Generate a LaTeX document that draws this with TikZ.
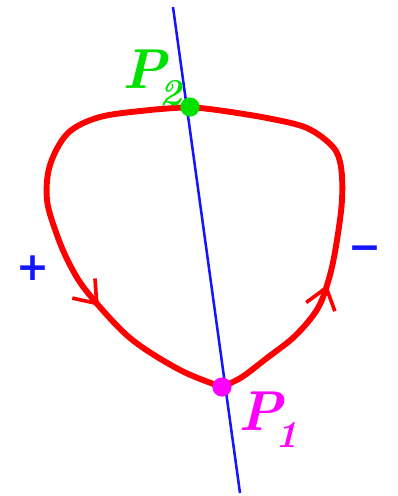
\documentclass[tikz,border=0pt]{standalone}
\usepackage{fontspec}
\usepackage{xcolor}
\usepackage{tikz}
\usetikzlibrary{arrows.meta,decorations.markings}

\newfontfamily\signfont{DejaVu Sans}
\definecolor{curvered}{RGB}{255,0,0}
\definecolor{lineblue}{RGB}{20,20,255}
\definecolor{ptgreen}{RGB}{0,225,0}
\definecolor{ptmagenta}{RGB}{255,0,255}

\begin{document}
\begin{tikzpicture}[x=0.025cm, y=-0.025cm,
    every node/.style={inner sep=0pt},
    dot/.style={circle, minimum size=0.48cm},
    lbl/.style={font=\fontsize{40}{40}\selectfont\bfseries\itshape},
    sgn/.style={font=\fontsize{28}{28}\selectfont\signfont\bfseries, text=lineblue},
    curve/.style={curvered, line width=4.2pt, line join=round},
    barb/.style={postaction={decorate, decoration={markings,
      mark=at position #1 with {\arrow[curvered, line width=2.6pt]{Straight Barb[length=0.5cm, width=0.75cm]}}}}}]
  \useasboundingbox (0,0) rectangle (398,496);

  % Line through both points
  \coordinate (top) at (173,7);
  \coordinate (bot) at (240,493);
  \draw[lineblue, line width=1.8pt] (top) -- (bot);

  % Closed curve, two halves
  \draw[curve, barb=0.68] plot[smooth, tension=0.55] coordinates
    {(190,107) (150,110) (100,117) (68,133) (50,165) (47,200) (57,235)
     (70,265) (88,293) (130,338) (180,370) (222,387)};
  \draw[curve, barb=0.34] plot[smooth, tension=0.55] coordinates
    {(222,387) (242,377) (267,358) (295,336) (318,308) (330,275) (337,240)
     (342,200) (341,167) (333,147) (307,128) (267,118) (217,110) (190,107)};

  % Points
  \node[dot, fill=ptgreen] (P2) at (190,107) {};
  \node[dot, fill=ptmagenta] (P1) at (222,387) {};
  \node[lbl, text=ptgreen, anchor=south east] (P2lbl) at (182,106)
    {P\kern-5pt\raisebox{-0.3em}{\fontsize{27}{27}\selectfont 2}};
  \node[lbl, text=ptmagenta, anchor=north west] (P1lbl) at (238,392)
    {P\kern-5pt\raisebox{-0.3em}{\fontsize{27}{27}\selectfont 1}};

  % Signs
  \node[sgn] (plus) at (33,268) {+};
  \node[sgn] (minus) at (365,253) {−};
\end{tikzpicture}
\end{document}
